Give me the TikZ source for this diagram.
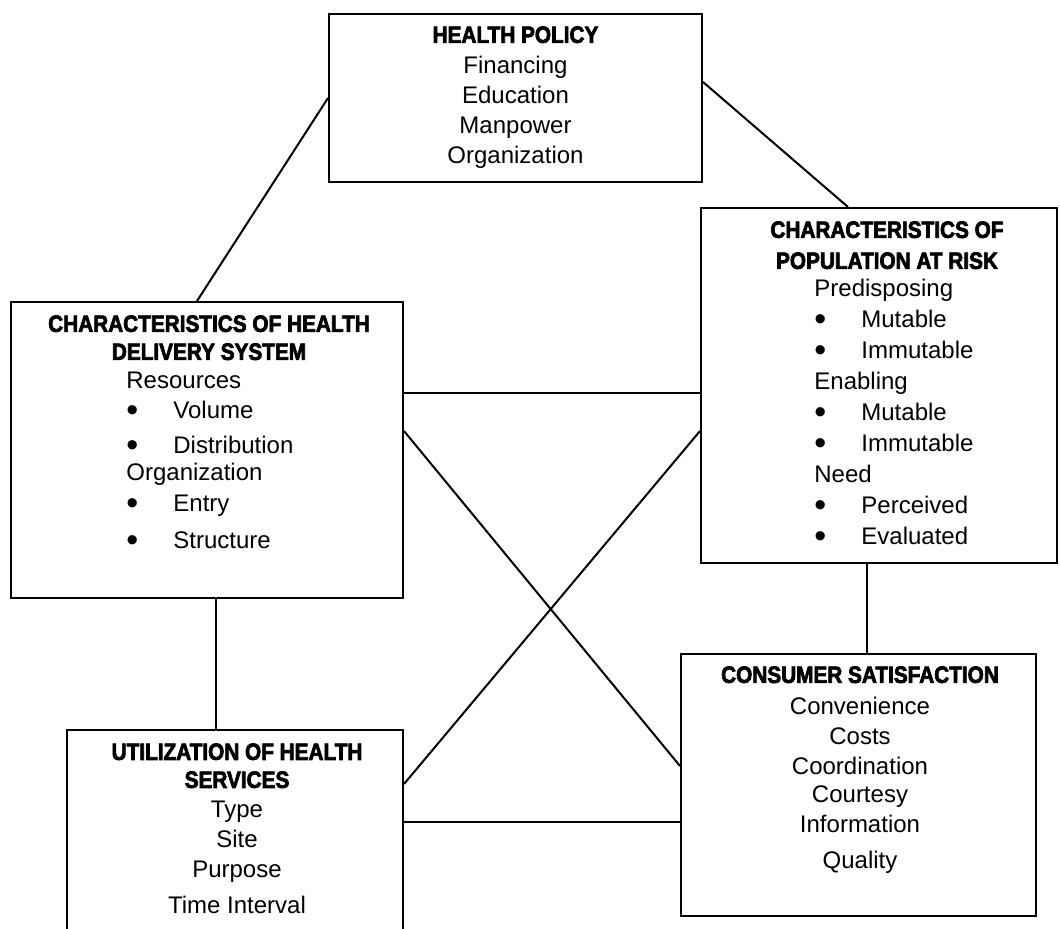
\documentclass[tikz,border=0pt]{standalone}
\usepackage{fontspec}
\setmainfont{Liberation Sans}
\newfontfamily\headfont[FakeStretch=0.88,FakeBold=3]{Liberation Sans Bold}
\usetikzlibrary{positioning,calc}

\newcommand{\blt}{\makebox[23.5pt][l]{\raisebox{-1.2pt}{\fontsize{17}{15}\selectfont •}}}

\begin{document}
\begin{tikzpicture}[
    x=0.5pt, y=-0.5pt,
    box/.style={draw, line width=1pt, inner sep=0pt},
    title/.style={font=\headfont\fontsize{11.8}{14.5}\selectfont, align=center, inner sep=0pt, anchor=north},
    body/.style={font=\fontsize{12}{15}\selectfont, align=center, inner sep=0pt, anchor=north},
    list/.style={body, align=left, anchor=north west},
    link/.style={line width=1pt}
]

\useasboundingbox (0,0) rectangle (1060,928);
\clip (0,0) rectangle (1060,928);

% Boxes
\node[box, minimum width=186.5pt, minimum height=84pt] (policy) at (515.5,98) {};
\node[box, minimum width=178pt, minimum height=177.5pt] (population) at (879,385.5) {};
\node[box, minimum width=196pt, minimum height=148pt] (delivery) at (207,450) {};
\node[box, minimum width=168pt, minimum height=110pt] (utilization) at (235,840) {};
\node[box, minimum width=177.5pt, minimum height=131pt] (consumer) at (858.5,785) {};

% Health policy
\node[title] (policytitle) at (515.5,26) {HEALTH POLICY};
\node[body, below=6pt of policytitle] (policybody) {Financing\\Education\\Manpower\\Organization};

% Population at risk
\node[title, font=\headfont\fontsize{11.8}{15.5}\selectfont] (poptitle) at (887,221) {CHARACTERISTICS OF\\POPULATION AT RISK};
\node[list, font=\fontsize{12}{15.5}\selectfont] (popbody) at (814,279) {Predisposing\\
\blt Mutable\\
\blt Immutable\\
Enabling\\
\blt Mutable\\
\blt Immutable\\
Need\\
\blt Perceived\\
\blt Evaluated};

% Health delivery system
\node[title, font=\headfont\fontsize{11.8}{14}\selectfont] (deltitle) at (209,315) {CHARACTERISTICS OF HEALTH\\DELIVERY SYSTEM};
\node[list] (delbody) at (126,372) {Resources\\
\blt Volume\\[2.5pt]
\blt Distribution\\[-1.5pt]
Organization\\[0.5pt]
\blt Entry\\[3.5pt]
\blt Structure};

% Utilization
\node[title, font=\headfont\fontsize{11.8}{14}\selectfont] (utiltitle) at (237,743) {UTILIZATION OF HEALTH\\SERVICES};
\node[body, below=6pt of utiltitle] (utilbody) {Type\\Site\\Purpose\\[3pt]Time Interval};

% Consumer satisfaction
\node[title] (constitle) at (860,666) {CONSUMER SATISFACTION};
\node[body, below=6.5pt of constitle] (consbody) {Convenience\\Costs\\Coordination\\[-1pt]Courtesy\\Information\\[3pt]Quality};

% Connections
\draw[link] (policy.west) -- ($(delivery.north west)+(187,0)$);
\draw[link] ($(policy.north east)+(0,69)$) -- ($(population.north west)+(148,0)$);
\draw[link] ($(delivery.north east)+(0,92)$) -- ($(population.north west)+(0,186)$);
\draw[link] ($(delivery.north east)+(0,130)$) -- ($(consumer.north west)+(0,113)$);
\draw[link] ($(population.north west)+(0,224)$) -- ($(utilization.north east)+(0,55)$);
\draw[link] ($(delivery.south west)+(206,0)$) -- ($(utilization.north west)+(150,0)$);
\draw[link] ($(population.south west)+(167,0)$) -- ($(consumer.north west)+(187,0)$);
\draw[link] ($(utilization.north east)+(0,93)$) -- ($(consumer.north west)+(0,169)$);

\end{tikzpicture}
\end{document}
